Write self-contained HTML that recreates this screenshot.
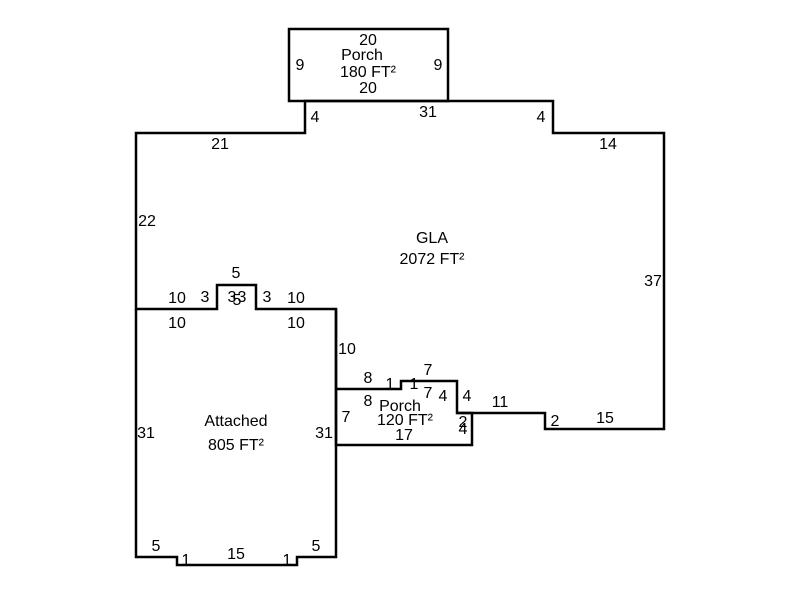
<!DOCTYPE html>
<html><head><style>html,body{margin:0;padding:0;background:#fff}svg{display:block}</style></head>
<body>
<svg width="800" height="600" xmlns="http://www.w3.org/2000/svg" font-family="Liberation Sans, Arial, sans-serif" font-size="16" text-anchor="middle">
<g fill="none" stroke="#000" stroke-width="2.5">
<rect x="289" y="29" width="159" height="72"/>
<path d="M305 101 H553 V133 H664 V429 H545 V413 H457 V381 H401 V389 H336 V309 H256 V285 H217 V309 H136 V133 H305 Z"/>
<path d="M136 309 V557 H177 V565 H297 V557 H336 V309"/>
<path d="M336 389 V445 H472 V413 H457"/>
</g>
<g fill="#000">
<text x="368" y="45">20</text>
<text x="362" y="60">Porch</text>
<text x="368" y="77">180 FT²</text>
<text x="368" y="93">20</text>
<text x="300" y="70">9</text>
<text x="438" y="70">9</text>
<text x="315" y="122">4</text>
<text x="428" y="117">31</text>
<text x="541" y="122">4</text>
<text x="220" y="149">21</text>
<text x="608" y="149">14</text>
<text x="147" y="226">22</text>
<text x="432" y="243">GLA</text>
<text x="432" y="264">2072 FT²</text>
<text x="653" y="286">37</text>
<text x="236" y="278">5</text>
<text x="177" y="303">10</text>
<text x="205" y="302">3</text>
<text x="232" y="302">3</text>
<text x="242" y="302">3</text>
<text x="237" y="305">5</text>
<text x="267" y="302">3</text>
<text x="296" y="303">10</text>
<text x="177" y="328">10</text>
<text x="296" y="328">10</text>
<text x="347" y="354">10</text>
<text x="368" y="383">8</text>
<text x="390" y="389">1</text>
<text x="414" y="389">1</text>
<text x="428" y="375">7</text>
<text x="428" y="398">7</text>
<text x="443" y="401">4</text>
<text x="467" y="401">4</text>
<text x="500" y="407">11</text>
<text x="368" y="406">8</text>
<text x="400" y="411">Porch</text>
<text x="405" y="425">120 FT²</text>
<text x="346" y="422">7</text>
<text x="404" y="440">17</text>
<text x="463" y="427">2</text>
<text x="463" y="434">4</text>
<text x="555" y="426">2</text>
<text x="605" y="423">15</text>
<text x="236" y="426">Attached</text>
<text x="236" y="450">805 FT²</text>
<text x="146" y="438">31</text>
<text x="324" y="438">31</text>
<text x="156" y="551">5</text>
<text x="316" y="551">5</text>
<text x="236" y="559">15</text>
<text x="186" y="565">1</text>
<text x="287" y="565">1</text>
</g>
</svg>
</body></html>
